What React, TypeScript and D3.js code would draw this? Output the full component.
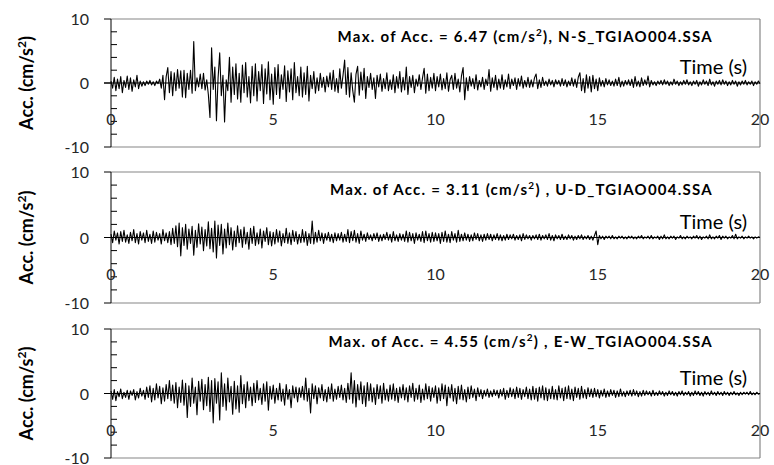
import React from "react";
import * as d3 from "d3";

// sampling step of the traces (s)
const dt = 0.05;

// N-S component (cm/s^2), every 0.05 s
const nsValues = [
  0.3, -0.8, 0.9, -1.2, 0.6, -0.9, 1.0, -1.5, 0.4, -0.7, 1.1, -1.0, 0.8, -1.3, 0.5, -0.6, 1.2, -0.9, 0.3, -0.5,
  0.2, -0.4, 0.3, -0.2, 0.4, -0.3, 0.2, -0.4, 0.3, -0.1, 0.6, -0.8, 1.2, -2.6, 1.0, 2.4, -1.5, 1.8, -2.0, 1.6,
  -1.2, 2.1, -0.8, 1.9, -2.2, 2.0, -2.3, 1.5, -1.0, 2.0, -1.6, 6.47, -1.2, 0.8, -0.6, 1.4, -0.9, 1.5, -1.1, 0.5,
  -1.8, -5.4, 5.5, -1.0, 2.5, -5.9, 0.8, 4.7, -2.0, 1.2, -6.1, 0.5, -1.2, 4.0, -3.0, 2.5, -1.8, 3.0, -2.5, 1.5,
  -3.0, 2.8, -1.5, 3.2, -2.2, 1.0, -3.1, 2.6, -2.0, 3.0, -2.8, 1.8, -1.2, 2.9, -3.2, 2.2, -1.7, 3.3, -2.6, 1.4,
  -3.3, 2.4, -1.8, 2.9, -2.4, 1.3, -1.0, 2.7, -2.9, 1.9, -1.4, 2.2, -2.6, 3.2, -1.5, 1.0, -2.0, 2.5, -2.2, 1.6,
  -1.8, 2.6, -2.8, 1.2, -0.9, 1.8, -1.6, 0.8, -1.2, 1.5, -0.7, 0.9, -1.4, 1.1, -0.6, 1.6, -1.0, 2.0, -1.3, 0.7,
  -1.5, 2.2, -0.8, 1.2, 3.6, -1.8, 2.4, -2.2, 1.6, -1.2, -3.0, 1.4, 2.6, -1.9, 1.7, -1.1, 2.3, -2.4, 1.0, -0.7,
  1.5, -1.0, 0.8, -2.4, 1.2, -0.6, 1.4, -1.3, 0.7, -0.9, 1.6, -1.2, 0.5, -1.0, 1.3, -1.5, 1.0, -0.8, 1.8, -1.4,
  0.9, -1.1, 2.5, -1.8, 1.0, -0.7, 1.2, -1.5, 0.6, -0.5, 1.3, -1.0, 0.8, 2.3, -1.6, 1.4, -1.2, 0.9, -0.8, 1.5,
  -1.2, 1.0, -0.6, 1.4, -1.1, 0.7, -0.9, 1.6, -1.3, 0.5, 1.2, -1.0, 1.5, -0.8, 0.6, -1.4, 1.1, 2.4, -2.6, 0.8,
  -1.2, 1.0, -0.5, 0.7, -0.9, 1.3, -1.1, 0.4, -0.6, 0.9, -1.0, 0.6, -0.4, 2.1, -1.3, 0.8, -0.7, 1.2, -1.1, 0.6,
  -0.8, 1.3, -1.0, 0.5, -0.6, 1.4, -0.9, 0.6, -0.4, 0.8, -1.0, 0.7, -0.5, 1.1, -0.8, 0.4, -0.6, 0.9, -0.7, 0.5,
  -0.6, 0.8, 1.4, -0.9, 0.5, -0.7, 0.9, -0.4, 0.3, -0.5, 0.6, -0.3, 0.4, -0.6, 0.5, -0.2, 0.4, -0.5, 0.7, -0.4,
  0.5, -0.6, 0.3, -0.4, 0.8, -0.5, 0.6, -0.7, 0.9, 1.6, -1.2, 0.7, -1.5, 1.3, -0.8, 1.0, -1.4, 1.2, -0.9, 0.6,
  -1.2, 0.8, -0.5, 0.4, -0.6, 0.7, -0.3, 0.5, -0.4, 0.3, -0.5, 0.6, -0.4, 0.9, -0.6, 0.3, -0.5, 0.4, -0.3, 0.5,
  -0.4, 0.6, -0.7, 1.0, -0.5, 0.3, -0.6, 0.8, -0.4, 0.5, -0.3, 1.1, -0.6, 0.4, -0.3, 0.2, -0.4, 0.3, -0.2, 0.4,
  -0.3, 0.5, -0.2, 0.3, -0.4, 0.2, -0.3, 0.6, -0.2, 0.3, -0.4, 0.2, -0.3, 0.4, -0.2, 0.5, -0.3, 0.2, -0.4, 0.3,
  -0.2, 0.4, -0.5, 0.2, -0.3, 0.5, -0.2, 0.3, -0.4, 0.6, -0.3, 0.2, -0.5, 0.3, -0.2, 0.4, -0.3, 0.5, -0.2, 0.3,
  -0.4, 0.2, -0.3, 0.4, -0.2, 0.3, -0.5, 0.2, -0.3, 0.3, -0.2, 0.4, -0.3, 0.2, -0.2, 0.3, -0.4, 0.2, -0.2, 0.3,
  -0.1,
];

// U-D component
const udValues = [
  0.5, -0.8, 1.0, -0.4, 0.7, -1.0, 0.9, -0.6, 1.1, -0.7, 0.4, -0.9, 0.8, -0.5, 1.2, -0.8, 0.6, -1.0, 0.9, -0.4,
  0.7, -0.8, 1.1, -0.6, 0.5, -0.9, 1.0, -0.7, 0.8, -0.4, 0.6, -1.0, 1.2, -0.5, 0.7, -0.8, 0.9, -1.1, 1.4, -0.9,
  1.8, -1.4, 2.2, -2.8, 1.5, -1.2, 2.0, -1.8, 1.3, -0.9, 1.7, -2.7, 1.1, -1.5, 2.1, -1.0, 1.6, -2.0, 1.2, -1.3,
  2.4, -1.7, 1.4, -2.2, 2.5, -3.11, 1.9, -1.2, 2.0, -2.5, 1.3, -1.6, 2.2, -1.1, 1.5, -1.9, 1.0, -1.4, 1.8, -0.8,
  1.2, -1.5, 1.6, -1.0, 0.8, -1.8, 1.4, -0.9, 1.7, -1.2, 0.7, -1.0, 1.3, -1.6, 1.0, -0.6, 1.5, -1.1, 0.9, -1.3,
  0.8, -1.0, 1.2, -0.7, 1.0, -1.3, 0.6, -0.8, 1.4, -0.9, 0.7, -1.1, 1.1, -0.6, 0.9, -1.0, 0.5, -0.8, 1.2, -0.7,
  0.9, -1.2, 0.6, -0.9, 2.5, -1.0, 0.8, -0.7, 1.1, -0.5, 0.7, -0.9, 0.6, -0.4, 0.8, -0.6, 0.5, -0.8, 0.7, -0.5,
  0.6, -0.4, 0.8, -0.7, 0.5, -0.6, 1.2, -0.8, 0.9, -0.5, 1.1, -0.7, 0.6, -0.9, 1.0, -0.4, 0.5, -0.6, 0.7, -0.3,
  0.4, -0.5, 0.6, -0.3, 0.7, -0.6, 0.4, -0.5, 0.5, -0.3, 0.8, -0.4, 0.5, -0.7, 0.9, -0.5, 0.4, -0.6, 0.6, -0.4,
  0.5, -0.6, 1.0, -0.7, 0.8, -0.5, 0.6, -0.9, 0.7, -0.4, 0.5, -0.6, 0.9, -0.8, 1.0, -0.5, 0.6, -0.7, 0.8, -0.6,
  0.7, -0.5, 0.6, -0.9, 0.8, -0.6, 1.0, -0.7, 0.5, -0.8, 0.9, -0.4, 0.6, -0.7, 1.1, -0.6, 0.5, -0.5, 0.7, -0.4,
  0.5, -0.6, 0.4, -0.5, 0.7, -0.3, 0.6, -0.5, 0.4, -0.6, 0.5, -0.4, 0.6, -0.3, 0.5, -0.5, 0.4, -0.3, 0.6, -0.4,
  0.4, -0.5, 0.3, -0.4, 0.5, -0.3, 0.4, -0.2, 0.5, -0.4, 0.3, -0.3, 0.4, -0.5, 0.6, -0.3, 0.4, -0.2, 0.3, -0.4,
  0.3, -0.2, 0.4, -0.3, 0.5, -0.4, 0.3, -0.2, 0.4, -0.3, 0.6, -0.4, 0.3, -0.5, 0.4, -0.2, 0.3, -0.3, 0.5, -0.3,
  0.2, -0.3, 0.4, -0.2, 0.3, -0.4, 0.2, -0.3, 0.3, -0.2, 0.4, -0.3, 0.2, -0.2, 0.3, -0.3, 0.2, -0.4, 0.3, 1.0,
  -1.1, 0.3, -0.2, 0.2, -0.3, 0.2, -0.1, 0.2, -0.2, 0.3, -0.2, 0.1, -0.2, 0.2, -0.1, 0.2, -0.2, 0.1, -0.2, 0.2,
  -0.1, 0.2, -0.2, 0.1, -0.2, 0.2, -0.1, 0.3, -0.2, 0.1, -0.1, 0.2, -0.2, 0.3, -0.2, 0.1, -0.1, 0.2, -0.3, 0.2,
  -0.2, 0.4, -0.2, 0.1, -0.2, 0.2, -0.1, 0.2, -0.3, 0.1, -0.1, 0.3, -0.2, 0.1, -0.2, 0.2, -0.1, 0.1, -0.2, 0.2,
  -0.1, 0.3, -0.2, 0.2, -0.3, 0.1, -0.1, 0.2, -0.2, 0.4, -0.2, 0.1, -0.2, 0.2, -0.1, 0.3, -0.3, 0.2, -0.1, 0.2,
  -0.2, 0.1, -0.1, 0.3, -0.2, 0.5, -0.2, 0.1, -0.1, 0.2, -0.2, 0.1, -0.1, 0.2, -0.1, 0.1, -0.2, 0.1, -0.1, 0.1,
  0.0,
];

// E-W component
const ewValues = [
  0.4, -0.9, 0.6, -1.1, 0.3, -0.5, 0.7, -0.8, 0.2, -0.6, 0.5, -0.9, 0.4, -0.3, 0.6, -1.0, 0.3, -0.7, 0.8, -0.4,
  0.5, -0.9, 1.0, -0.6, 1.2, -1.3, 0.8, -1.0, 1.5, -0.7, 1.1, -1.6, 0.9, -1.2, 1.4, -0.8, 2.0, -1.1, 1.3, -1.5,
  1.7, -2.2, 1.0, -1.4, 2.1, -1.8, 1.6, -3.7, 1.2, -2.0, 2.4, -1.5, 1.0, -3.3, 1.9, -1.2, 2.2, -2.5, 1.4, -1.9,
  2.5, -2.8, 2.0, -4.55, 2.3, -1.5, 1.8, -4.1, 3.2, -2.0, 1.5, -2.6, 2.4, -1.3, 1.1, -3.2, 1.9, -2.4, 1.2, -2.9,
  2.8, -1.6, 1.4, -2.2, 1.8, -1.1, 1.0, -1.9, 1.6, -1.4, 2.0, -1.0, 0.8, -1.7, 1.5, -1.2, 1.8, -2.6, 1.1, -0.9,
  1.3, -1.5, 0.8, -1.0, 1.6, -1.2, 0.7, -1.8, 1.4, -0.9, 0.6, -2.2, 1.2, -0.7, 1.0, -1.3, 0.9, -0.6, 1.1, -1.0,
  2.4, -1.2, 0.8, -3.0, 1.5, -0.8, 1.2, -1.6, 0.9, -0.7, 1.4, -1.1, 0.6, -1.3, 1.0, -0.8, 1.5, -1.2, 0.7, -0.9,
  1.1, -0.6, 1.3, -1.0, 0.8, -1.4, 1.6, -0.9, 3.2, -1.5, 2.0, -2.1, 1.4, -1.0, 1.8, -1.6, 1.2, -2.0, 1.7, -1.1,
  1.5, -1.3, 0.9, -1.7, 1.4, -0.8, 1.2, -1.5, 1.6, -1.0, 0.7, -1.2, 1.3, -0.9, 1.5, -1.1, 0.8, -1.4, 1.0, -0.7,
  1.4, -1.0, 0.9, -1.3, 1.2, -0.6, 1.6, -1.2, 0.8, -0.9, 1.3, -1.4, 0.7, -1.0, 1.5, -0.8, 1.1, -1.2, 0.9, -0.6,
  1.2, -1.5, 0.9, -1.1, 1.5, -0.8, 1.3, -1.9, 1.0, -0.7, 1.4, -1.2, 0.8, -1.6, 1.1, -0.9, 1.3, -1.0, 0.6, -1.3,
  1.0, -0.8, 1.2, -0.6, 0.7, -1.1, 0.9, -0.5, 0.6, -0.8, 0.5, -0.4, 0.7, -0.6, 0.4, -0.5, 0.6, -0.3, 0.5, -0.7,
  0.6, -0.4, 0.8, -0.9, 0.5, -0.6, 0.9, -0.5, 0.7, -0.8, 1.0, -0.6, 0.8, -0.9, 0.6, -0.5, 1.0, -0.8, 0.7, -1.0,
  1.1, -0.9, 0.8, -1.2, 1.0, -0.7, 1.2, -1.0, 0.9, -1.1, 0.7, -0.8, 1.1, -0.9, 0.6, -1.0, 1.2, -0.7, 0.8, -1.1,
  1.0, -0.8, 1.2, -0.9, 0.7, -1.1, 1.0, -0.6, 0.8, -0.9, 1.1, -0.7, 0.6, -0.8, 0.9, -0.5, 0.7, -0.6, 0.8, -0.5,
  0.6, -0.7, 0.5, -0.4, 0.7, -0.6, 0.4, -0.5, 0.6, -0.3, 0.5, -0.6, 0.4, -0.5, 0.7, -0.4, 0.3, -0.5, 0.4, -0.3,
  0.5, -0.4, 0.6, -0.3, 0.4, -0.5, 0.3, -0.4, 0.5, -0.3, 0.4, -0.2, 0.3, -0.4, 0.5, -0.3, 0.2, -0.3, 0.4, -0.2,
  0.3, -0.4, 0.2, -0.3, 0.4, -0.2, 0.3, -0.3, 0.2, -0.4, 0.3, -0.2, 0.4, -0.3, 0.2, -0.2, 0.3, -0.4, 0.2, -0.3,
  0.4, -0.2, 0.3, -0.3, 0.2, -0.4, 0.3, -0.2, 0.2, -0.3, 0.4, -0.2, 0.2, -0.3, 0.3, -0.2, 0.2, -0.3, 0.3, -0.2,
  0.2, -0.3, 0.2, -0.2, 0.3, -0.2, 0.1, -0.3, 0.2, -0.2, 0.2, -0.1, 0.2, -0.2, 0.3, -0.2, 0.1, -0.2, 0.2, -0.1,
  0.0,
];

const peakLabels = ["6.47", "3.11", "4.55"];
const componentLabels = ["N-S", "U-D", "E-W"];
const separators = [", ", " , ", " , "];
const stationFile = "_TGIAO004.SSA";
const yMajorTicks = [-10, 0, 10];
const yMinorTicks = [-8, -6, -4, -2, 2, 4, 6, 8];
const xTickLabels = [0, 5, 10, 15, 20];
const seriesList = [nsValues, udValues, ewValues];

// layout
const W = 774;
const H = 465;
const plotLeft = 111;
const plotRight = 760;
const panelTops = [19, 172, 329];
const panelBottoms = [147, 303, 458];
const titleDy = [23, 23, 18];
const FONT = "Lato, 'Open Sans', sans-serif";

function Panel({ idx }: { idx: number }) {
  const top = panelTops[idx];
  const bottom = panelBottoms[idx];
  const values = seriesList[idx];
  const x = d3.scaleLinear().domain([0, 20]).range([plotLeft, plotRight]);
  const y = d3.scaleLinear().domain([-10, 10]).range([bottom, top]);
  const line = d3
    .line<number>()
    .x((_, i) => x(i * dt))
    .y((v) => y(v));
  const y0 = y(0);
  return (
    <g>
      {/* plot frame */}
      <line x1={plotLeft} x2={plotRight} y1={top} y2={top} stroke="#868686" strokeWidth={1.2} />
      <line x1={plotRight} x2={plotRight} y1={top} y2={bottom} stroke="#868686" strokeWidth={1.2} />
      <line x1={plotLeft} x2={plotRight} y1={bottom} y2={bottom} stroke="#868686" strokeWidth={1.2} />
      {/* trace */}
      <path d={line(values) || ""} fill="none" stroke="#000" strokeWidth={1.1} strokeLinejoin="round" />
      {/* y axis */}
      <line x1={plotLeft} x2={plotLeft} y1={top} y2={bottom} stroke="#000" strokeWidth={1} />
      {yMajorTicks.map((t) => (
        <line key={"M" + t} x1={plotLeft - 7} x2={plotLeft} y1={y(t)} y2={y(t)} stroke="#000" strokeWidth={1} />
      ))}
      {yMinorTicks.map((t) => (
        <line key={"m" + t} x1={plotLeft} x2={plotLeft + 6} y1={y(t)} y2={y(t)} stroke="#000" strokeWidth={1} />
      ))}
      {yMajorTicks.map((t) => (
        <text key={"l" + t} x={plotLeft - 22} y={y(t) + 6} textAnchor="end" fontSize={16} fill="#262626" fontFamily={FONT}>
          {t}
        </text>
      ))}
      {/* x axis at zero */}
      <line x1={plotLeft - 7} x2={plotRight} y1={y0} y2={y0} stroke="#000" strokeWidth={1} />
      {xTickLabels.map((t) => (
        <text key={"x" + t} x={x(t)} y={y0 + 42} textAnchor="middle" fontSize={16} fill="#262626" fontFamily={FONT}>
          {t}
        </text>
      ))}
      <text x={plotRight - 13} y={y0 - 9} textAnchor="end" fontSize={20} fill="#000" fontFamily={FONT}>
        Time (s)
      </text>
      {/* title */}
      <text
        x={plotRight - 47}
        y={top + titleDy[idx]}
        textAnchor="end"
        fontSize={15}
        letterSpacing={1.25}
        fontWeight="bold"
        fill="#000"
        fontFamily={FONT}
      >
        {"Max. of Acc. = " + peakLabels[idx] + " (cm/s"}
        <tspan dy={-6} fontSize={10}>2</tspan>
        <tspan dy={6}>{")" + separators[idx] + componentLabels[idx] + stationFile}</tspan>
      </text>
      {/* y title */}
      <text
        transform={`translate(33,${y0}) rotate(-90)`}
        textAnchor="middle"
        fontSize={18}
        fontWeight="bold"
        fill="#000"
        fontFamily={FONT}
      >
        {"Acc. (cm/s"}
        <tspan dy={-7} fontSize={12}>2</tspan>
        <tspan dy={7}>)</tspan>
      </text>
    </g>
  );
}

export default function App() {
  return (
    <svg
      width={W}
      height={H}
      style={{ position: "absolute", left: 0, top: 0, background: "#fff" }}
      xmlns="http://www.w3.org/2000/svg"
    >
      <rect width={W} height={H} fill="#fff" />
      {[0, 1, 2].map((i) => (
        <Panel key={i} idx={i} />
      ))}
    </svg>
  );
}
